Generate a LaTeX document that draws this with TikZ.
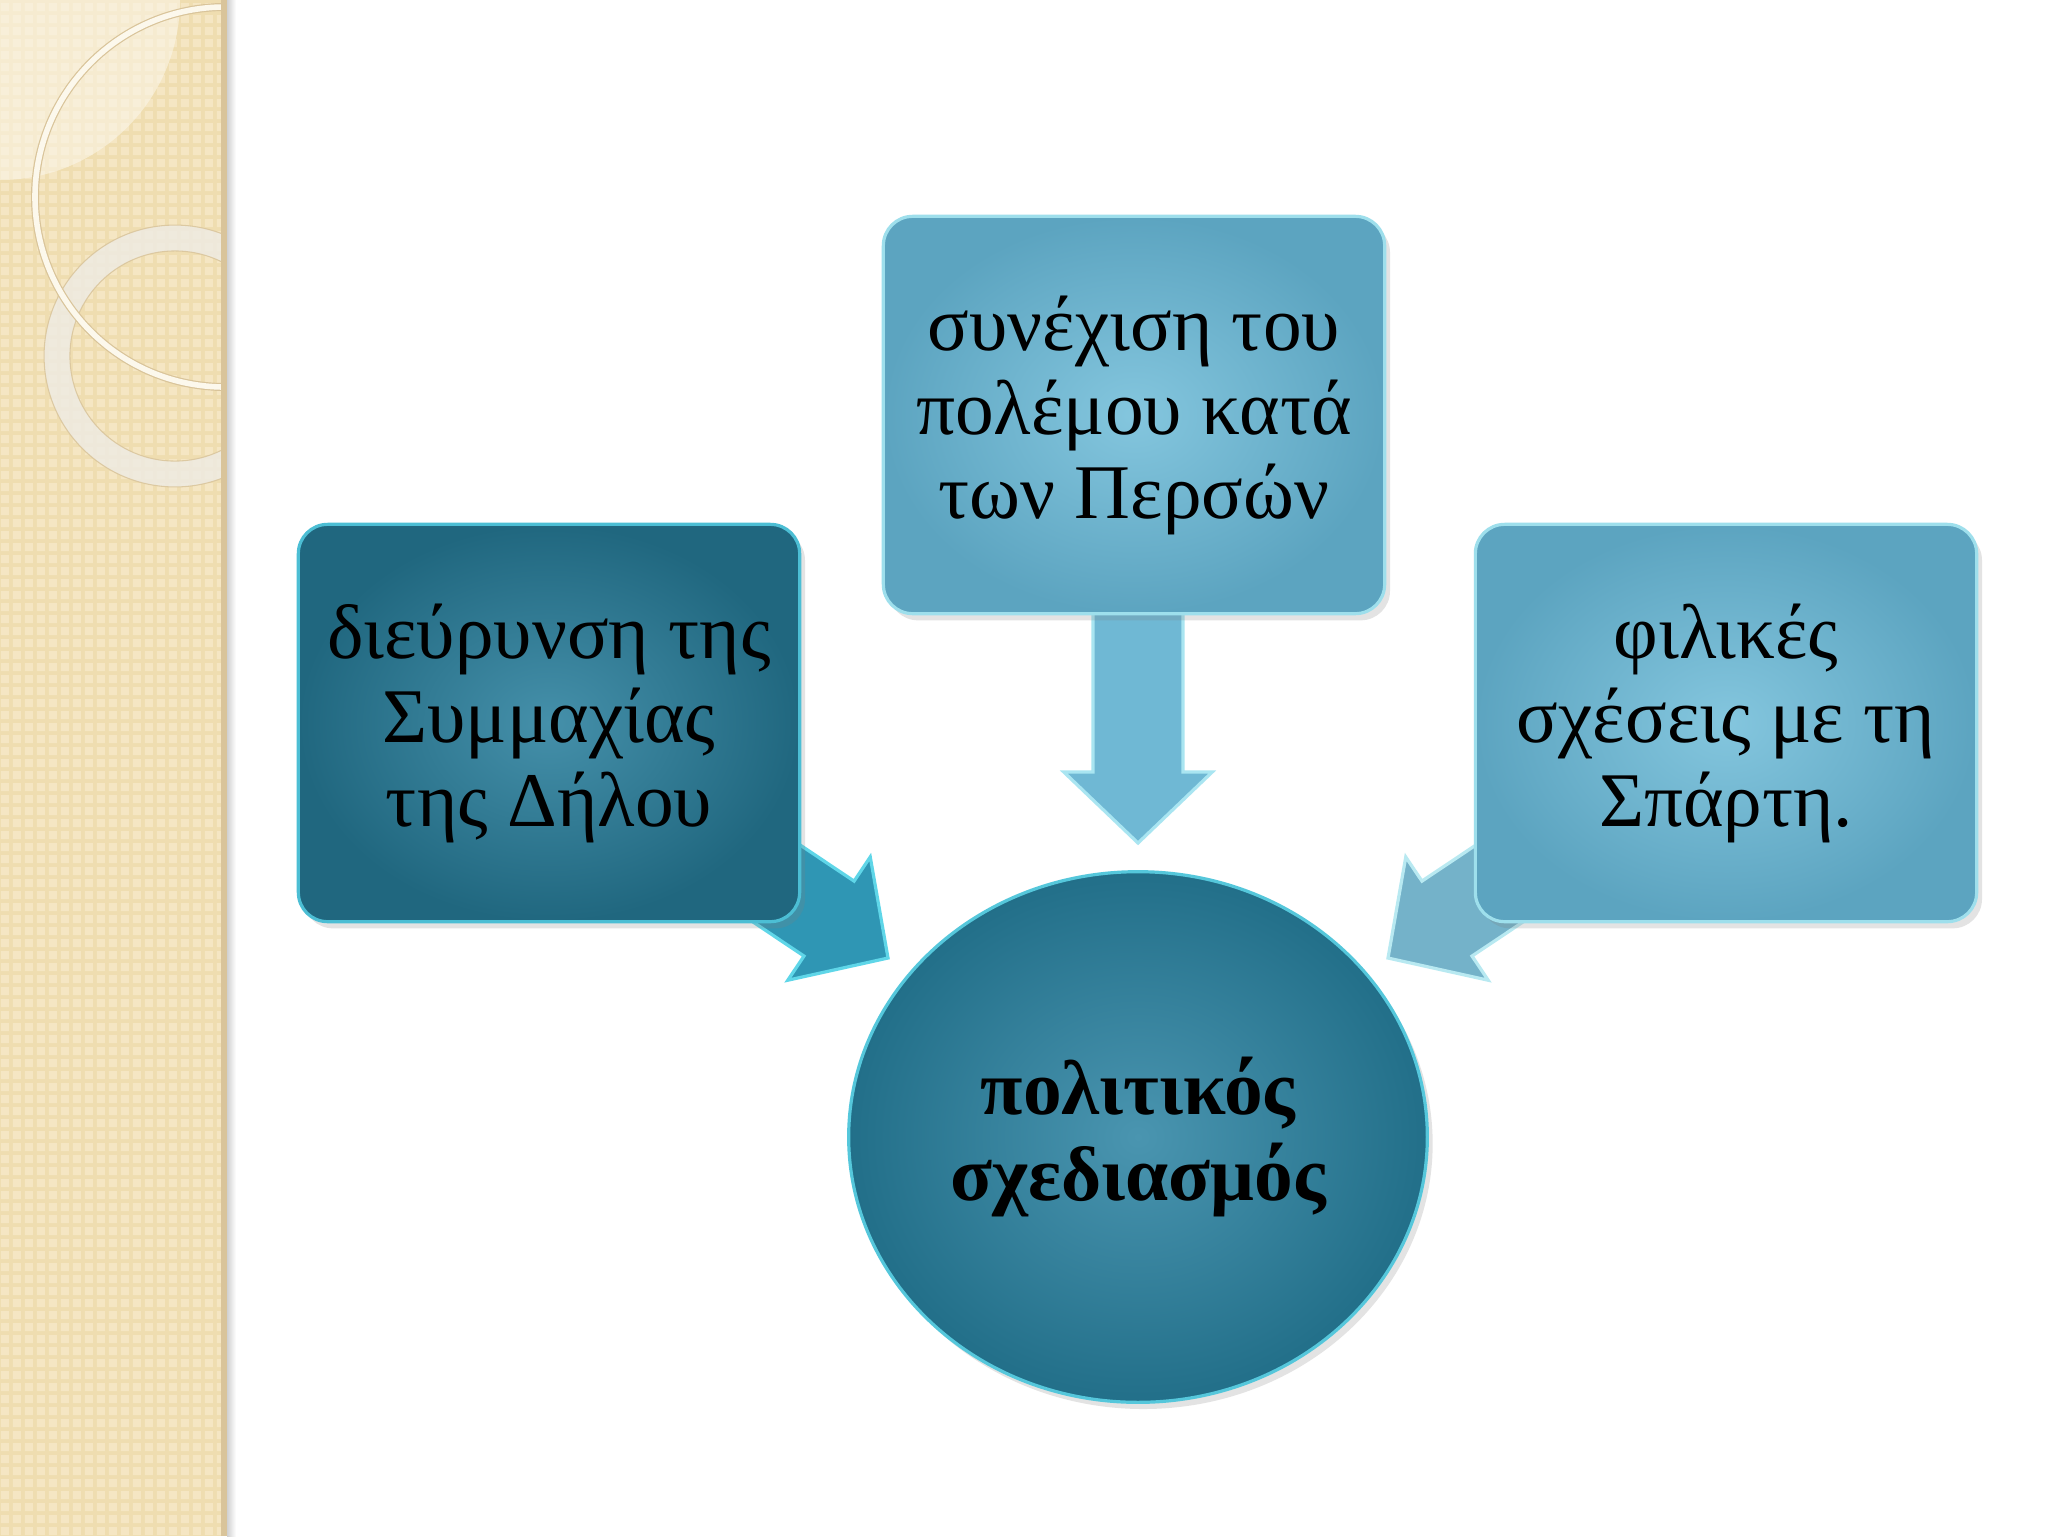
\documentclass[tikz,border=0pt]{standalone}
\usepackage{fontspec}
\setmainfont{Liberation Serif}
\usetikzlibrary{calc,patterns,shapes.geometric,shadows}

\definecolor{stripbase}{HTML}{EFDDB0}
\definecolor{striptile}{HTML}{F5E6C3}
\definecolor{stripedge}{HTML}{D9C49A}
\definecolor{ringcream}{HTML}{FCF8EC}
\definecolor{ringgrey}{HTML}{EEEBE2}
\definecolor{darkin}{HTML}{4590AA}
\definecolor{darkout}{HTML}{20677F}
\definecolor{darkrim}{HTML}{4CBED4}
\definecolor{lightin}{HTML}{84C6DE}
\definecolor{lightout}{HTML}{5CA4C0}
\definecolor{lightrim}{HTML}{9EDFEC}
\definecolor{plainin}{HTML}{4A95B0}
\definecolor{plainout}{HTML}{226F89}
\definecolor{plainrim}{HTML}{55C7DB}
\definecolor{larrfill}{HTML}{2F96B4}
\definecolor{larrrim}{HTML}{5FD6E8}
\definecolor{darrfill}{HTML}{6FB8D4}
\definecolor{darrrim}{HTML}{A9E5F1}
\definecolor{rarrfill}{HTML}{74B2C9}
\definecolor{rarrrim}{HTML}{B8E9F1}

\pgfdeclarepatternformonly{tiles}{\pgfqpoint{0pt}{0pt}}{\pgfqpoint{4.6pt}{4.6pt}}{\pgfqpoint{4.6pt}{4.6pt}}{%
	\pgfpathrectangle{\pgfqpoint{0.7pt}{0.7pt}}{\pgfqpoint{3.2pt}{3.2pt}}%
	\pgfusepath{fill}}

\pgfdeclarelayer{back}
\pgfsetlayers{back,main}

% fat arrow from #2 (tail) to #3 (tip)
\newcommand\blockarrow[3][]{%
	\coordinate (ba-h) at ($(#3)!26.6pt!(#2)$);
	\draw[#1] ($(#2)!16.9pt!90:(#3)$) -- ($(ba-h)!16.9pt!-90:(#2)$) -- ($(ba-h)!27.8pt!-90:(#2)$) -- (#3)
		-- ($(ba-h)!27.8pt!90:(#2)$) -- ($(ba-h)!16.9pt!90:(#2)$) -- ($(#2)!16.9pt!-90:(#3)$) -- cycle;}

\tikzset{
	box/.style={rectangle, rounded corners=11pt, line width=1.2pt, minimum width=188pt, minimum height=149pt,
		align=center, font=\fontsize{29}{31.5}\selectfont,
		drop shadow={shadow xshift=2pt, shadow yshift=-2.5pt, opacity=0.22}},
	darkbox/.style={box, draw=darkrim, inner color=darkin, outer color=darkout},
	lightbox/.style={box, draw=lightrim, inner color=lightin, outer color=lightout},
	plan/.style={ellipse, line width=1.2pt, draw=plainrim, inner color=plainin, outer color=plainout,
		minimum width=217pt, minimum height=199pt, align=center, font=\fontsize{29}{32}\selectfont\bfseries,
		drop shadow={shadow xshift=2pt, shadow yshift=-2.5pt, opacity=0.22}},
}

\begin{document}
\begin{tikzpicture}[x=0.375pt, y=-0.375pt]
			%%%%% START %%%%%
			\useasboundingbox (0,0) rectangle (2048,1536);
			
			\node[darkbox] (dilos) at (549,723) {διεύρυνση της\\Συμμαχίας\\της Δήλου};
			\node[lightbox] (persai) at (1134,415) {συνέχιση του\\πολέμου κατά\\των Περσών};
			\node[lightbox] (sparti) at (1726,723) {φιλικές\\σχέσεις με τη\\Σπάρτη.};
			\node[plan] (plan) at (1138,1137) {πολιτικός\\σχεδιασμός};
			
			\coordinate (l-tail) at ($(dilos.center)+(173,124)$);
			\coordinate (l-tip) at ($(plan.center)+(-250,-179)$);
			\coordinate (d-tail) at ($(plan.center)+(0,-600)$);
			\coordinate (d-tip) at ($(plan.center)+(0,-294)$);
			\coordinate (r-tail) at ($(sparti.center)+(-172,124)$);
			\coordinate (r-tip) at ($(plan.center)+(250,-179)$);
			
			\begin{pgfonlayer}{back}
			\fill[white] (0,0) rectangle (2048,1536);
			
			% side strip
			\fill[stripbase] (0,0) rectangle (227,1536);
			\fill[pattern=tiles, pattern color=striptile] (0,0) rectangle (221,1536);
			\begin{scope}
				\clip (0,0) rectangle (221,1536);
				\fill[ringcream, opacity=0.55] (0,0) circle (67.5pt);
				\fill[ringgrey, opacity=0.85, even odd rule, draw=stripedge, line width=0.4pt] (175,356) circle (49.1pt) (175,356) circle (39.4pt);
				\draw[stripedge, line width=3pt] (225,197) circle (71.25pt);
				\draw[ringcream, line width=2.1pt] (225,197) circle (71.25pt);
			\end{scope}
			\fill[stripedge] (221,0) rectangle (227,1536);
			\shade[left color=black!18, right color=white] (227,0) rectangle (236,1536);
			
			% arrows
			\blockarrow[fill=larrfill, draw=larrrim, line width=1.2pt]{l-tail}{l-tip}
			\blockarrow[fill=darrfill, draw=darrrim, line width=1.2pt]{d-tail}{d-tip}
			\blockarrow[fill=rarrfill, draw=rarrrim, line width=1.2pt]{r-tail}{r-tip}
			\end{pgfonlayer}
			%%%%% END %%%%%
\end{tikzpicture}
\end{document}
